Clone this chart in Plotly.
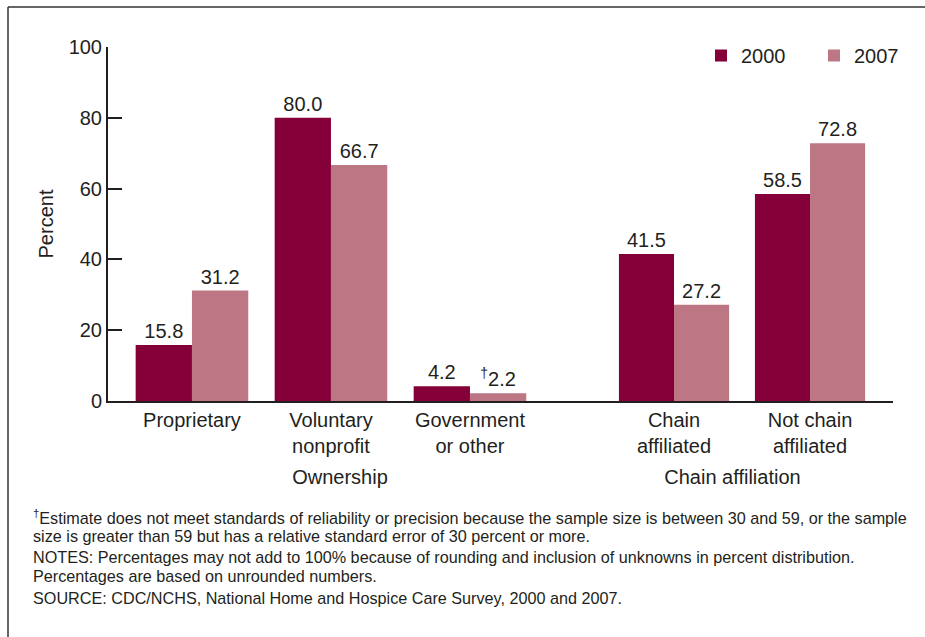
import plotly.graph_objects as go

# ---------------- data ----------------
years = ["2000", "2007"]
ownership_categories = ["Proprietary", "Voluntary<br>nonprofit", "Government<br>or other"]
chain_categories = ["Chain<br>affiliated", "Not chain<br>affiliated"]
ownership_2000 = [15.8, 80.0, 4.2]
ownership_2007 = [31.2, 66.7, 2.2]
ownership_2007_unreliable = [False, False, True]
chain_2000 = [41.5, 58.5]
chain_2007 = [27.2, 72.8]
y_tick_values = [0, 20, 40, 60, 80, 100]
group_titles = ["Ownership", "Chain affiliation"]
footnotes = [
    "<sup>†</sup>Estimate does not meet standards of reliability or precision because the sample size is between 30 and 59, or the sample",
    "size is greater than 59 but has a relative standard error of 30 percent or more.",
    "NOTES: Percentages may not add to 100% because of rounding and inclusion of unknowns in percent distribution.",
    "Percentages are based on unrounded numbers.",
    "SOURCE: CDC/NCHS, National Home and Hospice Care Survey, 2000 and 2007.",
]

# ---------------- style ----------------
W, H = 925, 637
FONT = "Liberation Sans, Arial, Helvetica, sans-serif"
TXT = "#231f20"
C2000 = "#850038"
C2007 = "#bd7683"
AX = "#231f20"


def px(x):
    return x / W


def py(y):
    return 1 - y / H


def labels(vals, flags=None):
    out = []
    for i, v in enumerate(vals):
        s = f"{v:.1f}"
        if flags and flags[i]:
            s = "<sup>†</sup>" + s
        out.append(s)
    return out


bar_common = dict(textposition="outside", cliponaxis=False, constraintext="none",
                  textfont=dict(size=20, color=TXT, family=FONT), marker_line_width=0)

fig = go.Figure()
fig.add_trace(go.Bar(x=ownership_categories, y=ownership_2000, name=years[0], marker_color=C2000,
                     text=labels(ownership_2000), xaxis="x", yaxis="y", legendgroup="a", **bar_common))
fig.add_trace(go.Bar(x=ownership_categories, y=ownership_2007, name=years[1], marker_color=C2007,
                     text=labels(ownership_2007, ownership_2007_unreliable), xaxis="x", yaxis="y",
                     legendgroup="b", **bar_common))
fig.add_trace(go.Bar(x=chain_categories, y=chain_2000, name=years[0], marker_color=C2000,
                     text=labels(chain_2000), xaxis="x2", yaxis="y", legendgroup="a", showlegend=False,
                     **bar_common))
fig.add_trace(go.Bar(x=chain_categories, y=chain_2007, name=years[1], marker_color=C2007,
                     text=labels(chain_2007), xaxis="x2", yaxis="y", legendgroup="b", showlegend=False,
                     **bar_common))

xaxis_common = dict(type="category", showline=True, linecolor=AX, linewidth=2, ticks="",
                    tickfont=dict(size=20, color=TXT, family=FONT), showgrid=False, zeroline=False,
                    fixedrange=True, anchor="y", automargin=False)

split = 572
fig.update_layout(
    template="none",
    width=W, height=H, autosize=False,
    margin=dict(l=0, r=0, t=0, b=0, pad=0, autoexpand=False),
    paper_bgcolor="white", plot_bgcolor="white",
    font=dict(family=FONT, size=20, color=TXT),
    barmode="group", bargap=0.19, bargroupgap=0,
    xaxis=dict(domain=[px(108), px(split)], range=[-0.604, 2.734],
               title=dict(text=group_titles[0], standoff=14, font=dict(size=20, color=TXT)),
               **xaxis_common),
    xaxis2=dict(domain=[px(split), px(893)], range=[-0.75, 1.61],
                title=dict(text=group_titles[1], standoff=14, font=dict(size=20, color=TXT)),
                **xaxis_common),
    yaxis=dict(domain=[py(401), py(47)], range=[0, 100], anchor="x", tickvals=y_tick_values,
               showline=True, linecolor=AX, linewidth=2, ticks="inside", ticklen=14, tickwidth=2,
               tickcolor=AX, showgrid=False, zeroline=False, fixedrange=True, automargin=False,
               tickfont=dict(size=20, color=TXT),
               title=dict(text="Percent", standoff=10, font=dict(size=20, color=TXT))),
    legend=dict(orientation="h", x=px(701), xanchor="left", y=py(36), yanchor="top",
                font=dict(size=20, color=TXT), bgcolor="rgba(0,0,0,0)", itemwidth=30,
                entrywidth=68, entrywidthmode="pixels", traceorder="normal"),
    showlegend=True,
)

# footnotes
foot_y = [517, 536, 557, 576, 598]
for t, yy in zip(footnotes, foot_y):
    fig.add_annotation(text=t, x=px(31), y=py(yy), xref="paper", yref="paper", xanchor="left",
                       yanchor="middle", showarrow=False, align="left",
                       font=dict(size=16.2, color=TXT, family=FONT))

# frame (top and left edges of the figure box)
fig.add_shape(type="line", xref="paper", yref="paper", x0=px(8), x1=1, y0=py(7), y1=py(7),
              line=dict(color="#333333", width=1.5))
fig.add_shape(type="line", xref="paper", yref="paper", x0=px(8), x1=px(8), y0=py(7), y1=0,
              line=dict(color="#333333", width=1.5))

page_fix = (
    "document.documentElement.style.overflow='hidden';"
    "document.body.style.margin='0';document.body.style.overflow='hidden';"
    "var d=document.getElementById('{plot_id}');"
    "d.style.position='fixed';d.style.left='0px';d.style.top='0px';"
)
fig.write_html("out.html", config={"displayModeBar": False},
               post_script=page_fix)
